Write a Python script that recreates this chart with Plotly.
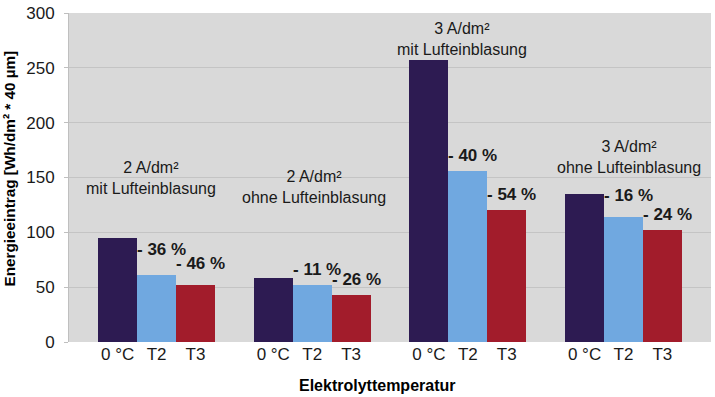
import plotly.graph_objects as go

# ---- data ----
groups = ["2 A/dm²<br>mit Lufteinblasung", "2 A/dm²<br>ohne Lufteinblasung",
          "3 A/dm²<br>mit Lufteinblasung", "3 A/dm²<br>ohne Lufteinblasung"]
temps = ["0 °C", "T2", "T3"]
values_0C = [95, 58, 257, 135]
values_T2 = [61, 52, 156, 114]
values_T3 = [52, 43, 120, 102]
pct_T2 = ["- 36 %", "- 11 %", "- 40 %", "- 16 %"]
pct_T3 = ["- 46 %", "- 26 %", "- 54 %", "- 24 %"]
y_ticks = [0, 50, 100, 150, 200, 250, 300]

colors = ["#2d1b52", "#70a8e0", "#a21c2b"]
FONT = "Liberation Sans, Arial, sans-serif"

series = [values_0C, values_T2, values_T3]
fig = go.Figure()
tickvals, ticktext = [], []
for i, (name, vals) in enumerate(zip(temps, series)):
    xs = [4 * g + i for g in range(len(groups))]
    tickvals += xs
    ticktext += [name] * len(xs)
    fig.add_trace(go.Bar(x=xs, y=vals, name=name, width=1.0,
                         marker=dict(color=colors[i], line=dict(width=0)),
                         showlegend=False))

# percentage labels (pixel lift above bar top, per group)
lift_T2 = [14, 4, 4, 10]
lift_T3 = [10, 4, 4, 4]
for g in range(len(groups)):
    for i, (labels, vals, lift) in enumerate([(pct_T2, values_T2, lift_T2),
                                              (pct_T3, values_T3, lift_T3)], start=1):
        fig.add_annotation(x=4 * g + i - 0.5, y=vals[g], text="<b>" + labels[g] + "</b>",
                           xanchor="left", yanchor="bottom", showarrow=False,
                           xshift=-2, yshift=lift[g],
                           font=dict(family=FONT, size=17, color="#1a1a1a"))

# group titles
title_y = [149.5, 141.5, 276.5, 169]
title_dx = [-0.15, 0.05, -0.15, 0.15]
for g in range(len(groups)):
    fig.add_annotation(x=4 * g + 1 + title_dx[g], y=title_y[g], text=groups[g],
                       showarrow=False, xanchor="center", yanchor="middle",
                       font=dict(family=FONT, size=16, color="#1a1a1a"))

# axis titles
fig.add_annotation(x=0.48, y=-0.1, xref="paper", yref="paper",
                   text="<b>Elektrolyttemperatur</b>", showarrow=False,
                   xanchor="center", yanchor="top",
                   font=dict(family=FONT, size=16, color="#000000"))
fig.add_annotation(x=-0.092, y=0.527, xref="paper", yref="paper",
                   text="<b>Energieeintrag [Wh/dm² * 40 µm]</b>", showarrow=False,
                   textangle=-90, xanchor="center", yanchor="middle",
                   font=dict(family=FONT, size=15.3, color="#000000"))

fig.update_layout(
    width=715, height=397,
    margin=dict(l=69, r=4, t=9, b=55),
    paper_bgcolor="white", plot_bgcolor="#d9d9d9",
    bargap=0,
    font=dict(family=FONT, size=16, color="#1a1a1a"),
    xaxis=dict(range=[-1.25, 15.25], tickvals=tickvals, ticktext=ticktext,
               showgrid=False, zeroline=False, showline=False,
               tickfont=dict(size=17, color="#1a1a1a"), ticks=""),
    yaxis=dict(range=[0, 300], tickvals=y_ticks, showgrid=True,
               gridcolor="#c4c4c4", gridwidth=1, zeroline=False,
               showline=True, linecolor="#bfbfbf", linewidth=1,
               ticks="outside", ticklen=4, tickcolor="#bfbfbf",
               ticklabeloverflow="allow", ticklabelstandoff=6,
               tickfont=dict(size=17, color="#1a1a1a")),
)
fig.write_html("out.html", config={"displayModeBar": False})
with open("out.html", encoding="utf-8") as f:
    html = f.read()
html = html.replace("<head>", "<head><style>html,body{margin:0;padding:0;overflow:hidden;}</style>", 1)
with open("out.html", "w", encoding="utf-8") as f:
    f.write(html)
